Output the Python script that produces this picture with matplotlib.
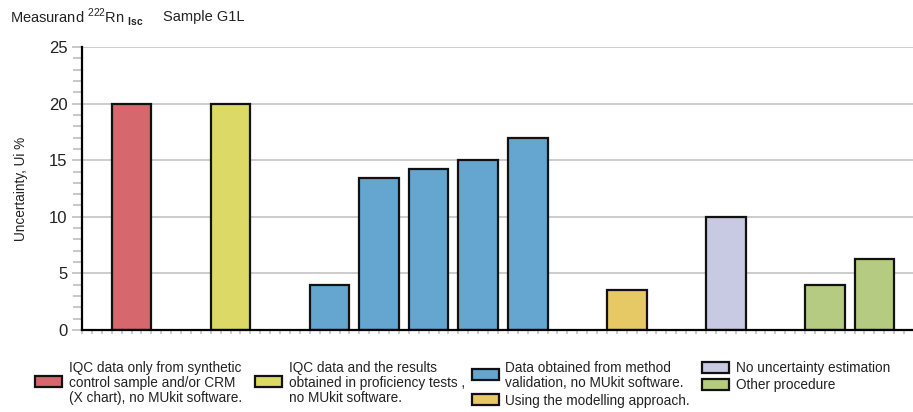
import numpy as np
import matplotlib.pyplot as plt
from matplotlib.patches import Rectangle

plt.rcParams['font.family'] = ['Liberation Sans', 'DejaVu Sans']
plt.rcParams['mathtext.fontset'] = 'custom'
plt.rcParams['mathtext.rm'] = 'Liberation Sans'
plt.rcParams['mathtext.bf'] = 'Liberation Sans:bold'

# bar slots (1-based) and values
positions = [1, 3, 5, 6, 7, 8, 9, 11, 13, 15, 16]
values = [20, 20, 4, 13.45, 14.2, 15.05, 17.0, 3.5, 10, 4, 6.25]
groups = [0, 1, 2, 2, 2, 2, 2, 3, 4, 5, 5]

group_labels = [
    "IQC data only from synthetic\ncontrol sample and/or CRM\n(X chart), no MUkit software.",
    "IQC data and the results\nobtained in proficiency tests ,\nno MUkit software.",
    "Data obtained from method\nvalidation, no MUkit software.",
    "Using the modelling approach.",
    "No uncertainty estimation",
    "Other procedure",
]
group_colors = ['#d6676d', '#dcd966', '#64a6d0', '#e6c865', '#c8c9e3', '#b6cb82']

fig = plt.figure(figsize=(9.13, 4.12), dpi=100)
ax = fig.add_axes([82 / 913, 1 - 330 / 412, 1 - 82 / 913, 283 / 412])

bar_colors = [group_colors[g] for g in groups]
ax.bar(positions, values, width=0.8, color=bar_colors, edgecolor='#111111',
       linewidth=1.6, zorder=3)

ax.set_xlim(0, 16.78)
ax.set_ylim(0, 25)
ax.set_yticks([0, 5, 10, 15, 20, 25])
ax.set_yticks(np.arange(0, 25.1, 1), minor=True)
ax.set_xticks([])
ax.set_xticks(np.arange(0, 16.78, 0.2), minor=True)
ax.tick_params(axis='y', which='major', length=7.5, width=1.3, color='#c4c4c4',
               labelsize=12, pad=3, labelcolor='#222222')
ax.tick_params(axis='y', which='minor', length=6.5, width=1.3, color='#c4c4c4')
ax.tick_params(axis='x', which='minor', length=3, width=1.2, color='#c4c4c4')
ax.yaxis.grid(True, which='major', color='#cccccc', linewidth=1.4, zorder=0)
ax.set_axisbelow(True)

for s in ['top', 'right']:
    ax.spines[s].set_visible(False)
ax.spines['left'].set_linewidth(1.6)
ax.spines['bottom'].set_linewidth(1.6)
ax.spines['bottom'].set_zorder(4)

ax.set_ylabel('Uncertainty, Ui %', fontsize=9.8, color='#222222', labelpad=15)

fig.text(10 / 913, 1 - 17 / 412, r"Measurand $^{222}$Rn $_{\mathbf{lsc}}$",
         fontsize=10.5, va='center', ha='left', color='#222222')
fig.text(163 / 913, 1 - 17 / 412, "Sample G1L", fontsize=10.5, va='center',
         ha='left', color='#222222')

# legend drawn by hand (pixel positions of patch top-left, text x, text center y)
legend_layout = [
    (35, 376, 69, 383),
    (255, 376, 289, 383),
    (472, 369, 505, 375.5),
    (472, 394, 505, 401),
    (702, 362, 736, 368),
    (702, 379, 736, 385),
]
W, H = 913, 412
for (px, py, tx, ty), lab, col in zip(legend_layout, group_labels, group_colors):
    fig.patches.append(Rectangle((px / W, 1 - (py + 11) / H), 27 / W, 11 / H,
                                 transform=fig.transFigure, facecolor=col,
                                 edgecolor='#111111', linewidth=1.6))
    fig.text(tx / W, 1 - ty / H, lab, fontsize=9.8, va='center', ha='left',
             linespacing=1.05, color='#222222')

fig.savefig('out.png', dpi=100)
